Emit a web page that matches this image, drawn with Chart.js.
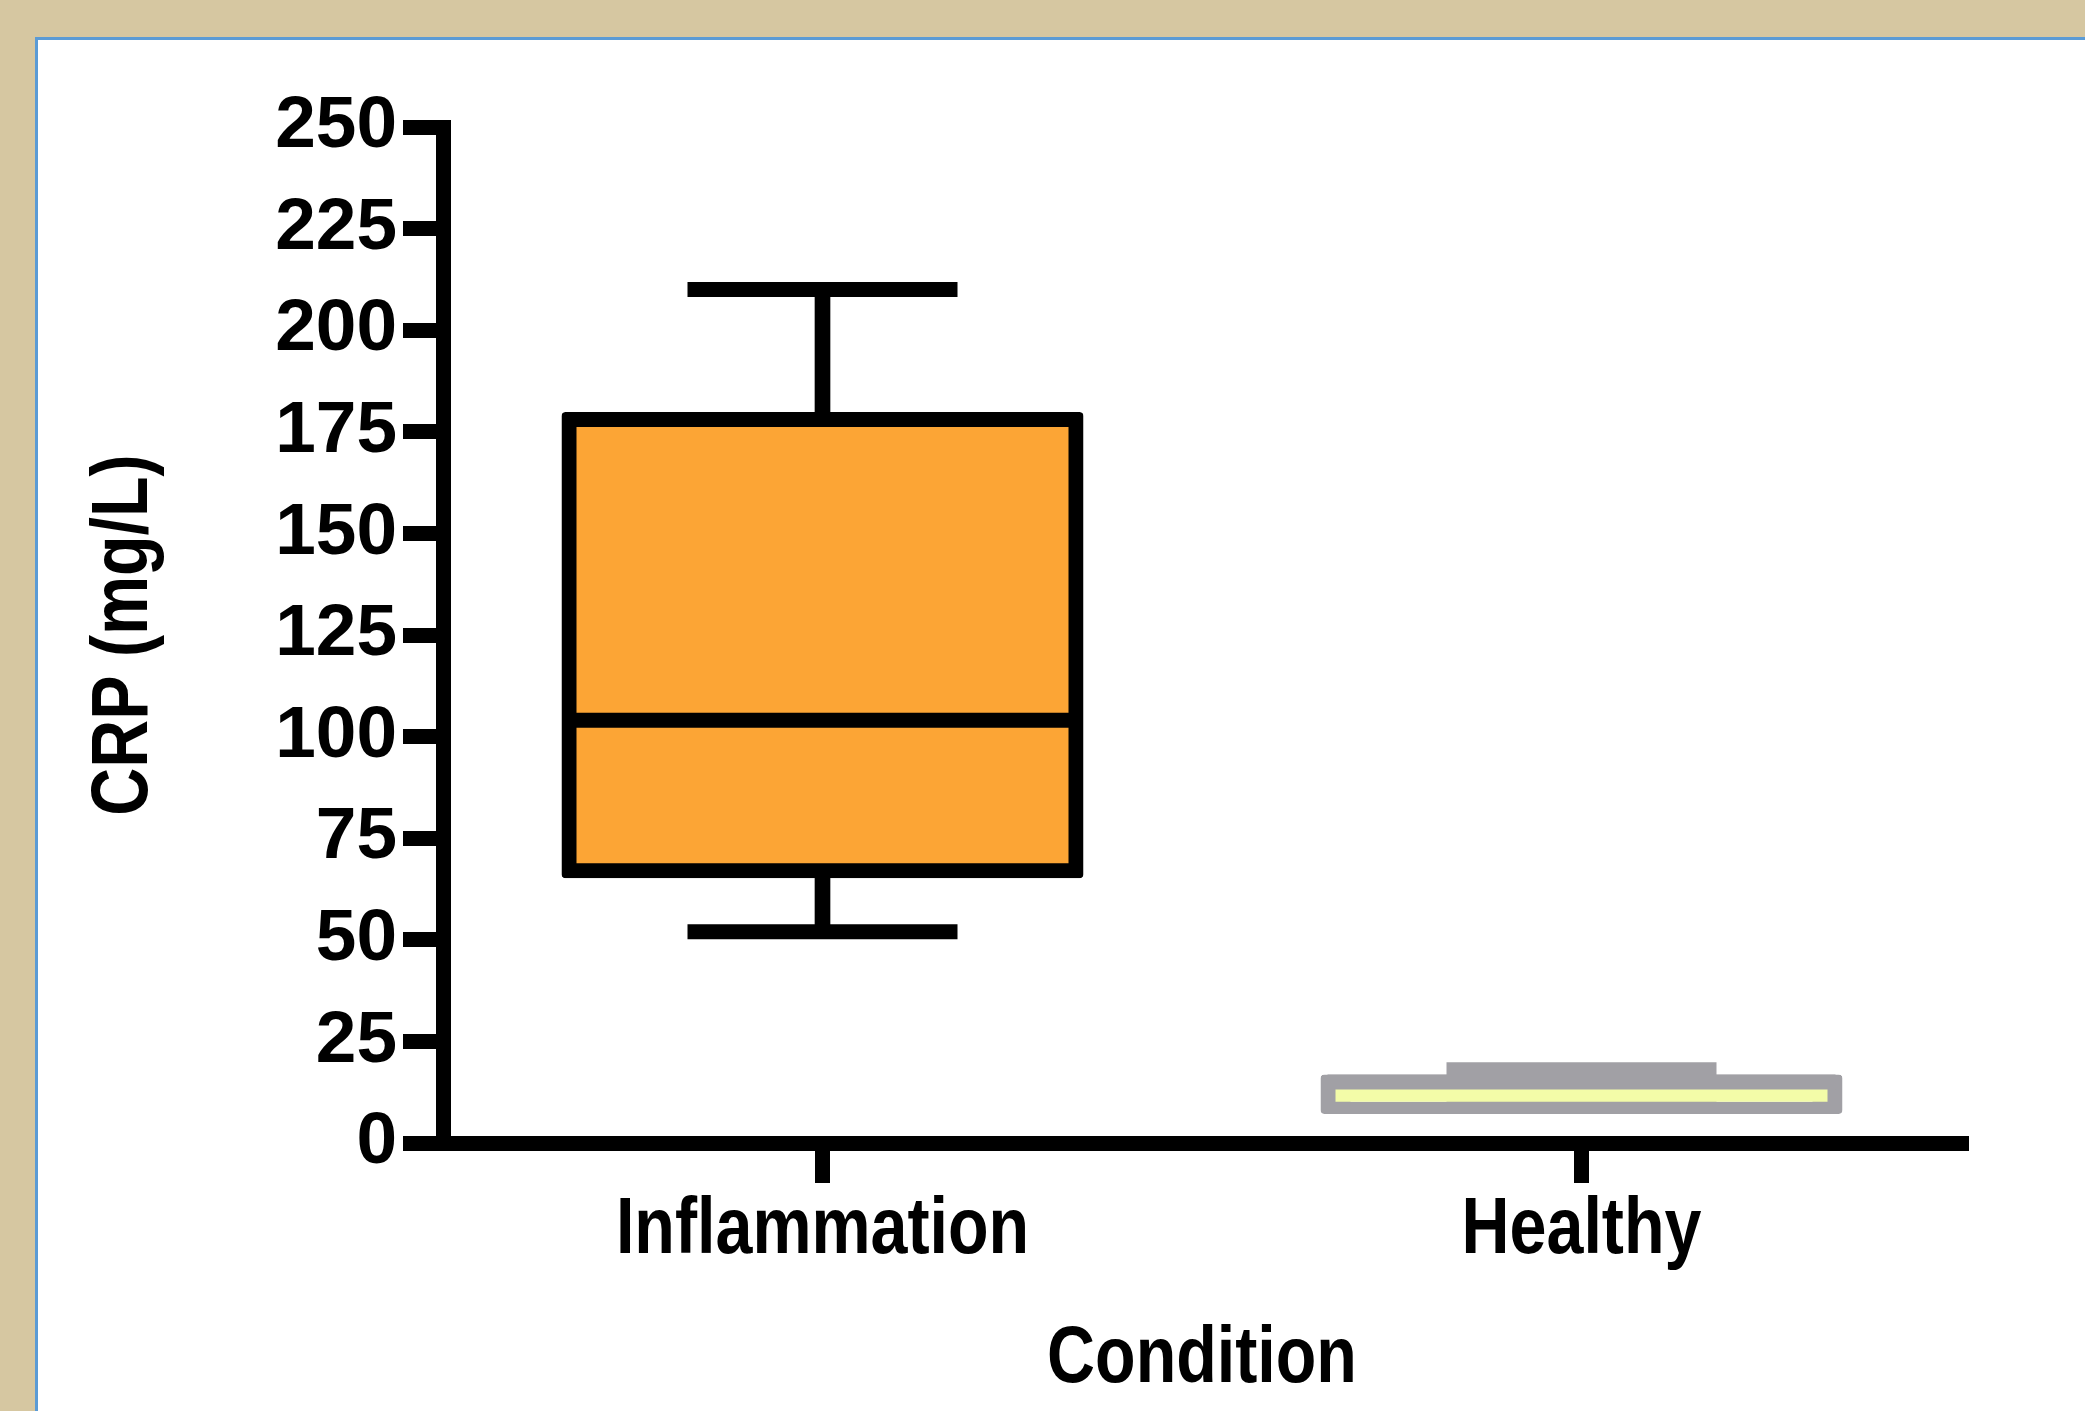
<!DOCTYPE html>
<html>
<head>
<meta charset="utf-8">
<script src="https://cdn.jsdelivr.net/npm/chart.js@4.4.1/dist/chart.umd.min.js"></script>
<style>
  html, body { margin: 0; padding: 0; }
  body { width: 2085px; height: 1411px; background: #d6c7a1; position: relative; overflow: hidden; }
  #panel { position: absolute; left: 35px; top: 37px; right: 0; bottom: 0; background: #fff;
           border-top: 3px solid #5b9bd5; border-left: 3px solid #5b9bd5; }
  #myChart { position: absolute; left: 0; top: 0; }
</style>
</head>
<body>
<div id="panel"></div>
<canvas id="myChart" width="2085" height="1411"></canvas>
<script>
// box plot values
const categories = ['Inflammation', 'Healthy'];
const minValues = [52, 9];
const q1Values = [67, 9];
const medianValues = [104, 15];
const q3Values = [178, 15];
const maxValues = [210, 18];

// colours per group
const boxColors = ['#fca535', '#f3fca8'];
const lineColors = ['#000000', '#a1a0a5'];

const fontFamily = '"Liberation Sans", Arial, sans-serif';

let ctx = document.getElementById('myChart').getContext('2d');

// no condensed font here, so squeeze the big 80px labels/titles like the original narrow face
const plainFillText = ctx.fillText.bind(ctx);
ctx.fillText = function (text, x, y, maxWidth) {
    if (ctx.font.indexOf(' 80px') !== -1) {
        let w = ctx.measureText(text).width * 0.83;
        if (maxWidth !== undefined) w = Math.min(w, maxWidth);
        return plainFillText(text, x, y, w);
    }
    if (maxWidth === undefined) return plainFillText(text, x, y);
    return plainFillText(text, x, y, maxWidth);
};

const data = {
    labels: categories,
    datasets: [
        {
            // median line
            type: 'line',
            data: medianValues,
            showLine: false,
            pointStyle: 'line',
            pointRadius: 254,
            pointBorderWidth: 15,
            pointBorderColor: lineColors,
            order: 0
        },
        {
            // the box from Q1 to Q3
            type: 'bar',
            data: categories.map((c, i) => [q1Values[i], q3Values[i]]),
            backgroundColor: boxColors,
            borderColor: lineColors,
            borderWidth: 15,
            borderSkipped: false,
            borderRadius: 4,
            inflateAmount: 7.5,
            grouped: false,
            barPercentage: 0.668,
            categoryPercentage: 1,
            order: 1
        },
        {
            // whisker caps
            type: 'line',
            data: maxValues,
            showLine: false,
            pointStyle: 'line',
            pointRadius: 135,
            pointBorderWidth: 15,
            pointBorderColor: lineColors,
            order: 2
        },
        {
            type: 'line',
            data: minValues,
            showLine: false,
            pointStyle: 'line',
            pointRadius: 135,
            pointBorderWidth: 15,
            pointBorderColor: lineColors,
            order: 2
        },
        {
            // whisker stem min..max, drawn behind the box
            type: 'bar',
            data: categories.map((c, i) => [minValues[i], maxValues[i]]),
            backgroundColor: lineColors,
            borderWidth: 0,
            barThickness: 15,
            grouped: false,
            order: 3
        }
    ]
};

const config = {
    type: 'bar',
    data,
    options: {
        responsive: false,
        animation: false,
        layout: { autoPadding: false, padding: { left: 0, top: 127, right: 124, bottom: 0 } },
        plugins: { legend: { display: false }, tooltip: { enabled: false } },
        scales: {
            x: {
                offset: true,
                ticks: { color: '#000', padding: 0, font: { family: fontFamily, size: 80, weight: 'bold' } },
                grid: { offset: false, drawOnChartArea: false, tickLength: 40, lineWidth: 15, color: '#000' },
                border: { display: true, width: 15, color: '#000' },
                title: {
                    display: true, text: 'Condition', color: '#000',
                    font: { family: fontFamily, size: 80, weight: 'bold' },
                    padding: { top: 0, bottom: 3 }
                },
                afterFit: (s) => { s.height = 268; }
            },
            y: {
                min: 0,
                max: 250,
                ticks: { stepSize: 25, autoSkip: false, color: '#000', padding: 6, font: { family: fontFamily, size: 73, weight: 'bold' } },
                grid: { drawOnChartArea: false, tickLength: 40, lineWidth: 15, color: '#000' },
                border: { display: true, width: 15, color: '#000' },
                title: {
                    display: true, text: 'CRP (mg/L)', color: '#000',
                    font: { family: fontFamily, size: 80, weight: 'bold' },
                    padding: { top: 77, bottom: 0 }
                },
                afterFit: (s) => { s.width = 443; }
            }
        }
    }
};

let chart = new Chart(ctx, config);
</script>
</body>
</html>
